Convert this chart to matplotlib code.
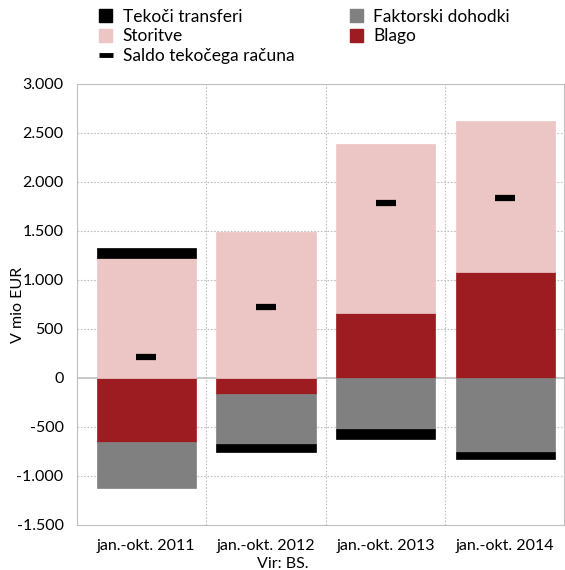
import matplotlib
matplotlib.use("Agg")
from matplotlib import pyplot as plt
from matplotlib.lines import Line2D
from matplotlib.patches import Patch
import numpy as np

# data (mio EUR)
categories = ["jan.-okt. 2011", "jan.-okt. 2012", "jan.-okt. 2013", "jan.-okt. 2014"]
blago = [-650, -160, 665, 1085]
storitve = [1225, 1490, 1725, 1540]
faktorski = [-470, -510, -520, -755]
tekoci = [100, -90, -100, -70]
saldo = [215, 725, 1785, 1840]

yticks = [-1500, -1000, -500, 0, 500, 1000, 1500, 2000, 2500, 3000]
ytick_labels = ["-1.500", "-1.000", "-500", "0", "500", "1.000", "1.500", "2.000", "2.500", "3.000"]

c_blago = "#9c1c21"
c_stor = "#ebc6c5"
c_fakt = "#808080"
c_tek = "#000000"

plt.rcParams["font.family"] = ["Lato", "DejaVu Sans"]
plt.rcParams["font.size"] = 11.5

fig = plt.figure(figsize=(5.65, 5.70), dpi=100)
ax = fig.add_axes([0.137, 0.079, 0.861, 0.774])

x = np.arange(len(categories))
w = 0.83

# stack positives and negatives separately
pos = np.zeros(len(x))
neg = np.zeros(len(x))
for vals, col in [(blago, c_blago), (storitve, c_stor), (faktorski, c_fakt), (tekoci, c_tek)]:
    vals = np.array(vals, dtype=float)
    bottoms = np.where(vals >= 0, pos, neg)
    ax.bar(x, vals, w, bottom=bottoms, color=col, edgecolor=col, linewidth=0.5, zorder=2)
    pos = pos + np.where(vals >= 0, vals, 0)
    neg = neg + np.where(vals < 0, vals, 0)

ax.plot(x, saldo, linestyle="none", marker="_", markersize=14, markeredgewidth=4.5,
        color="black", zorder=3)

ax.set_xlim(-0.575, 3.49)
ax.set_ylim(-1500, 3000)
ax.set_yticks(yticks)
ax.set_yticklabels(ytick_labels)
ax.set_xticks(x)
ax.set_xticklabels(categories)
ax.tick_params(length=0, pad=10)
ax.tick_params(axis="x", pad=10)

# grid
for yv in yticks[1:-1]:
    if yv == 0:
        ax.axhline(0, color="#bfbfbf", linewidth=1.2, zorder=1)
    else:
        ax.axhline(yv, color="#bfbfbf", linewidth=0.8, linestyle=(0, (1.5, 1.5)), zorder=1)
for xv in [0.5, 1.5, 2.5]:
    ax.axvline(xv, color="#bfbfbf", linewidth=0.8, linestyle=(0, (1.5, 1.5)), zorder=1)
for s in ax.spines.values():
    s.set_color("#bfbfbf")

ax.set_ylabel("V mio EUR")
ax.yaxis.set_label_coords(-0.108, 0.5)

handles = [
    Patch(color=c_tek, label="Tekoči transferi"),
    Patch(color=c_stor, label="Storitve"),
    Line2D([], [], linestyle="none", marker="_", markersize=10, markeredgewidth=3.5,
           color="black", label="Saldo tekočega računa"),
    Patch(color=c_fakt, label="Faktorski dohodki"),
    Patch(color=c_blago, label="Blago"),
]
fig.legend(handles=handles, ncol=2, loc="upper left", bbox_to_anchor=(0.148, 1.012),
           frameon=False, handlelength=0.75, handleheight=0.75, handletextpad=0.6,
           columnspacing=3.2, labelspacing=0.2, fontsize=12.5)

fig.text(0.5, -0.002, "Vir: BS.", ha="center", va="bottom", fontsize=11.5)

plt.savefig("out.png", dpi=100)
